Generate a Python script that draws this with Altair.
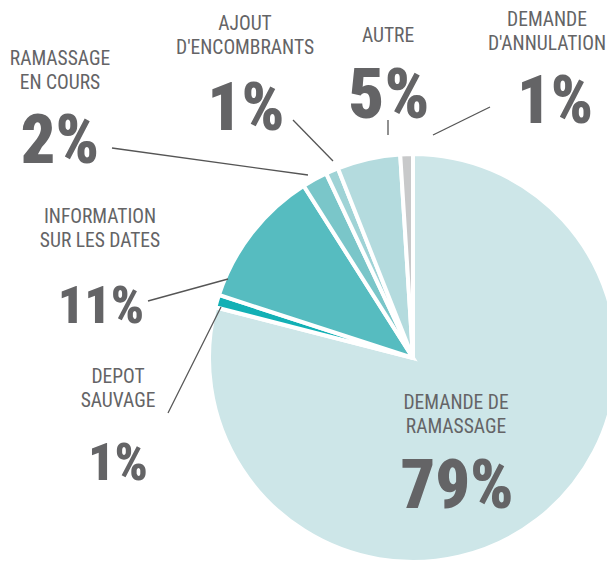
import altair as alt
import pandas as pd

# ---- data ----
categories = ["DEMANDE DE RAMASSAGE", "DEPOT SAUVAGE", "INFORMATION SUR LES DATES",
              "RAMASSAGE EN COURS", "AJOUT D'ENCOMBRANTS", "AUTRE", "DEMANDE D'ANNULATION"]
values = [79, 1, 11, 2, 1, 5, 1]
label_lines = [["DEMANDE DE", "RAMASSAGE"], ["DEPOT", "SAUVAGE"], ["INFORMATION", "SUR LES DATES"],
               ["RAMASSAGE", "EN COURS"], ["AJOUT", "D'ENCOMBRANTS"], ["AUTRE"], ["DEMANDE", "D'ANNULATION"]]
pct_labels = ["79%", "1%", "11%", "2%", "1%", "5%", "1%"]

# ---- styles / layout (page pixel coordinates) ----
colors = ["#cde6e8", "#13b0b5", "#56bcc0", "#7ac6c9", "#9fd3d6", "#b4dbde", "#c8c9ca"]
label_x = [456, 118, 100, 60, 245, 388, 547]
label_y0 = [409, 383, 223, 65, 30, 42, 26]
line_gap = 24
pct_x = [457, 118, 101, 60, 246, 389, 555]
pct_y = [508, 480, 323, 163, 130, 118, 123]
pct_size = [68, 52, 52, 68, 67, 70, 66]
leader_x1 = [None, 168, 148, 112, 293, 388, 490]
leader_y1 = [None, 413, 301, 148, 120, 120, 107]
leader_x2 = [None, 221, 228, 308, 333, 388, 433]
leader_y2 = [None, 307, 279, 175, 161, 135, 135]

TEXT_COLOR = "#646466"
FONT = "Roboto Condensed"

pie_df = pd.DataFrame({"cat": categories, "value": values, "order": list(range(len(values)))})

lab_rows = []
for i, lines in enumerate(label_lines):
    for j, t in enumerate(lines):
        lab_rows.append({"text": t, "x": label_x[i], "y": label_y0[i] + j * line_gap})
lab_df = pd.DataFrame(lab_rows)

pct_df = pd.DataFrame({"text": pct_labels, "x": pct_x, "y": pct_y, "size": pct_size})

lead_df = pd.DataFrame({"x": leader_x1, "y": leader_y1, "x2": leader_x2, "y2": leader_y2}).dropna()

W, H = 599, 554
xs = alt.Scale(domain=[8, 8 + W], nice=False, zero=False)
ys = alt.Scale(domain=[8, 8 + H], nice=False, zero=False, reverse=True)

pie = alt.Chart(pie_df).mark_arc(radius=204, stroke="white", strokeWidth=4).encode(
    theta=alt.Theta("value:Q", stack=True),
    color=alt.Color("cat:N", scale=alt.Scale(domain=categories, range=colors), legend=None),
    order=alt.Order("order:Q"),
    x=alt.value(413 - 8),
    y=alt.value(358 - 8),
)

leaders = alt.Chart(lead_df).mark_rule(color="#555555", strokeWidth=1.3).encode(
    x=alt.X("x:Q", scale=xs, axis=None),
    y=alt.Y("y:Q", scale=ys, axis=None),
    x2="x2:Q",
    y2="y2:Q",
)

labels = alt.Chart(lab_df).mark_text(
    font=FONT, fontSize=19.5, color=TEXT_COLOR, align="center", baseline="alphabetic"
).encode(
    x=alt.X("x:Q", scale=xs, axis=None),
    y=alt.Y("y:Q", scale=ys, axis=None),
    text="text:N",
)

pcts = alt.Chart(pct_df).mark_text(
    font=FONT, fontWeight=900, color=TEXT_COLOR, align="center", baseline="alphabetic"
).encode(
    x=alt.X("x:Q", scale=xs, axis=None),
    y=alt.Y("y:Q", scale=ys, axis=None),
    size=alt.Size("size:Q", scale=None, legend=None),
    text="text:N",
)

chart = alt.layer(pie, leaders, labels, pcts).properties(
    width=W, height=H, autosize=alt.AutoSizeParams(type="none"), padding=0
).configure_view(stroke=None)

chart.save("out.html", embed_options={"renderer": "svg", "actions": False})
